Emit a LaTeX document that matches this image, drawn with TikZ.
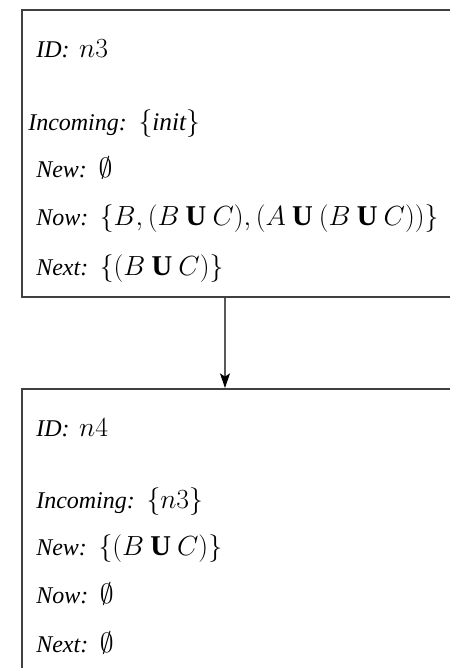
\documentclass[tikz,border=0pt]{standalone}
\usepackage{fontspec}
\setmainfont{Liberation Serif}[ItalicFont={Liberation Serif Italic}]
\usetikzlibrary{arrows.meta}
\newcommand{\UU}{\mathbin{\mathbf{U}}}
\newcommand{\mm}[1]{\hspace{0.15em}{\fontsize{21.5}{24}\selectfont$#1$}}
\begin{document}
\begin{tikzpicture}[x=0.75pt,y=-0.75pt,
  statebox/.style={draw=black!75,line width=1.3pt,rectangle,inner sep=0pt,anchor=north west},
  field/.style={anchor=base west,inner sep=0pt,font=\fontsize{18}{20}\selectfont},
  conn/.style={draw=black!65,line width=1.1pt,-{Stealth[length=11pt,width=7.5pt,inset=2.5pt,black]}}]
\useasboundingbox (0,0) rectangle (450,668);
\clip (0,0) rectangle (450,668);
\node[statebox,minimum width=337pt,minimum height=215.25pt] (n3) at (21,9) {};
\node[statebox,minimum width=337pt,minimum height=230pt] (n4) at (21,388) {};
\node[field] (id3) at (36,57) {\textit{ID:} \mm{n3}};
\node[field] (in3) at (28,130) {\textit{Incoming:} \mm{\{\mbox{\fontsize{19}{22}\selectfont\itshape init}\}}};
\node[field] (new3) at (36,177) {\textit{New:} \mm{\emptyset}};
\node[field] (now3) at (36,225) {\textit{Now:} \mm{\{B,(B\UU C),(A\UU(B\UU C))\}}};
\node[field] (next3) at (36,275) {\textit{Next:} \mm{\{(B\UU C)\}}};
\node[field] (id4) at (36,436) {\textit{ID:} \mm{n4}};
\node[field] (in4) at (36,508) {\textit{Incoming:} \mm{\{n3\}}};
\node[field] (new4) at (36,555) {\textit{New:} \mm{\{(B\UU C)\}}};
\node[field] (now4) at (36,603) {\textit{Now:} \mm{\emptyset}};
\node[field] (next4) at (36,652) {\textit{Next:} \mm{\emptyset}};
\coordinate (ax) at (225,0);
\draw[conn] (n3.south -| ax) -- (n4.north -| ax);
\end{tikzpicture}
\end{document}
